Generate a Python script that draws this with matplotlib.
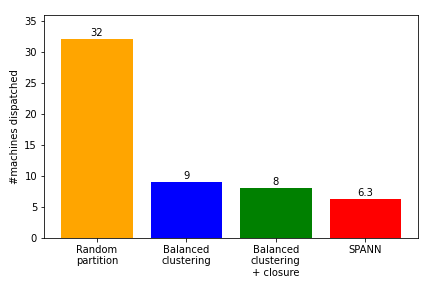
import matplotlib
matplotlib.use("Agg")
import matplotlib.pyplot as plt

methods = ["Random\npartition", "Balanced\nclustering", "Balanced\nclustering\n+ closure", "SPANN"]
machines = [32, 9, 8, 6.3]
labels = ["32", "9", "8", "6.3"]
colors = ["orange", "blue", "green", "red"]

fig, ax = plt.subplots(figsize=(6, 4), dpi=72)
fig.subplots_adjust(left=0.102, right=0.968, top=0.949, bottom=0.174)

x = list(range(len(methods)))
bars = ax.bar(x, machines, color=colors, width=0.8)
ax.bar_label(bars, labels=labels, padding=1, fontsize=10)

ax.set_xticks(x)
ax.set_xticklabels(methods)
ax.set_ylim(0, 36)
ax.set_ylabel("#machines dispatched")

fig.savefig("out.png", dpi=72, facecolor="white")
